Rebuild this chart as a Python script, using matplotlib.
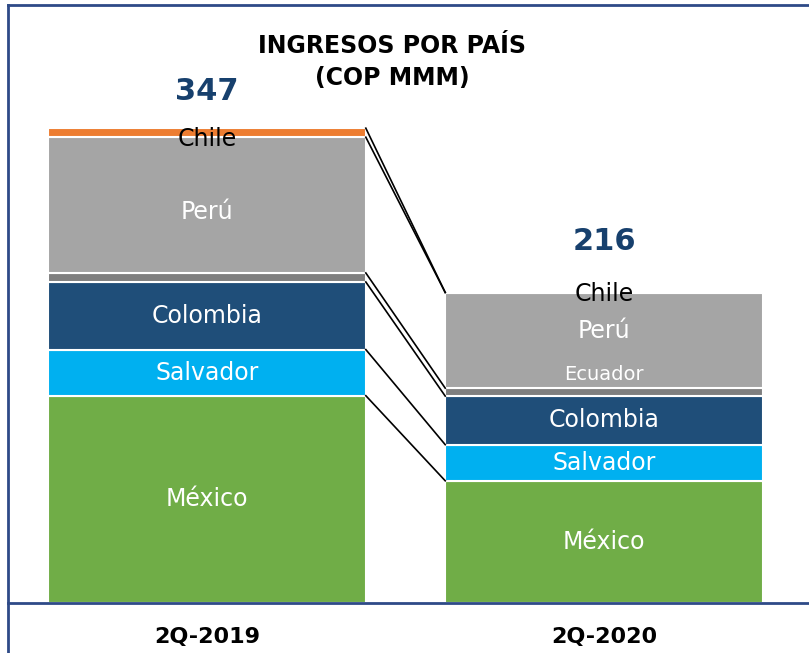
import numpy as np
import matplotlib.pyplot as plt

# revenue by country, COP MMM
periods = ['2Q-2019', '2Q-2020']
countries = ['México', 'Salvador', 'Colombia', 'Ecuador', 'Perú', 'Chile']
values = {
    'México':   [151.5, 89.3],
    'Salvador': [33.7, 26.4],
    'Colombia': [49.4, 35.5],
    'Ecuador':  [6.6, 5.8],
    'Perú':     [99.2, 69.9],
    'Chile':    [6.6, 0.0],
}
totals = [347, 216]
colors = {
    'México': '#70AD47',
    'Salvador': '#00B0F0',
    'Colombia': '#1F4E79',
    'Ecuador': '#7F7F7F',
    'Perú': '#A5A5A5',
    'Chile': '#ED7D31',
}
frame = '#2E4A87'

fig = plt.figure(figsize=(8.09, 6.53), dpi=100)
ax = fig.add_axes([8 / 809, 50 / 653, 801 / 809, 598 / 653])

x = np.arange(len(periods))
w = 0.80
bottom = np.zeros(len(periods))
tops = {}
for c in countries:
    v = np.array(values[c])
    ax.bar(x, v, w, bottom=bottom, color=colors[c], edgecolor='white', linewidth=1.5)
    tops[c] = bottom + v
    bottom = bottom + v

# connector lines between bars at each segment top
for c in countries:
    ax.plot([x[0] + w / 2, x[1] - w / 2], [tops[c][0], tops[c][1]], color='black', lw=1.2)

lab = dict(ha='center', va='center', color='white', fontsize=17)
for i in range(2):
    mid = lambda c: tops[c][i] - values[c][i] / 2
    ax.text(x[i], mid('México'), 'México', **lab)
    ax.text(x[i], mid('Salvador'), 'Salvador', **lab)
    ax.text(x[i], mid('Colombia'), 'Colombia', **lab)
    ax.text(x[i], tops['Perú'][i] - 1, 'Chile', ha='center', va='center', color='black', fontsize=17)

ax.text(x[0], tops['Ecuador'][0] + values['Perú'][0] / 2 - 5, 'Perú', **lab)
ax.text(x[1], tops['Ecuador'][1] + 42, 'Perú', **lab)
ax.text(x[1], tops['Ecuador'][1] + 10, 'Ecuador', ha='center', va='center', color='white', fontsize=14)

# totals
ax.text(x[0], bottom[0] + 27, str(totals[0]), ha='center', va='center',
        color='#17406D', fontsize=22, fontweight='bold')
ax.text(x[1], bottom[1] + 37, str(totals[1]), ha='center', va='center',
        color='#17406D', fontsize=22, fontweight='bold')

ax.text(0.48, 0.905, 'INGRESOS POR PAÍS\n(COP MMM)', transform=ax.transAxes,
        ha='center', va='center', fontsize=17, fontweight='bold', linespacing=1.45)

ax.set_xlim(-0.501, 1.516)
ax.set_ylim(0, 437)
ax.set_xticks(x)
ax.set_xticklabels(periods, fontsize=16, fontweight='bold')
ax.tick_params(axis='x', length=0, pad=17)
ax.set_yticks([])
ax.spines['right'].set_visible(False)
for s in ['left', 'bottom', 'top']:
    ax.spines[s].set_color(frame)
    ax.spines[s].set_linewidth(2)
ax.spines['left'].set_bounds(-100, 437)
ax.spines['left'].set_clip_on(False)

plt.savefig('out.png', dpi=100)
